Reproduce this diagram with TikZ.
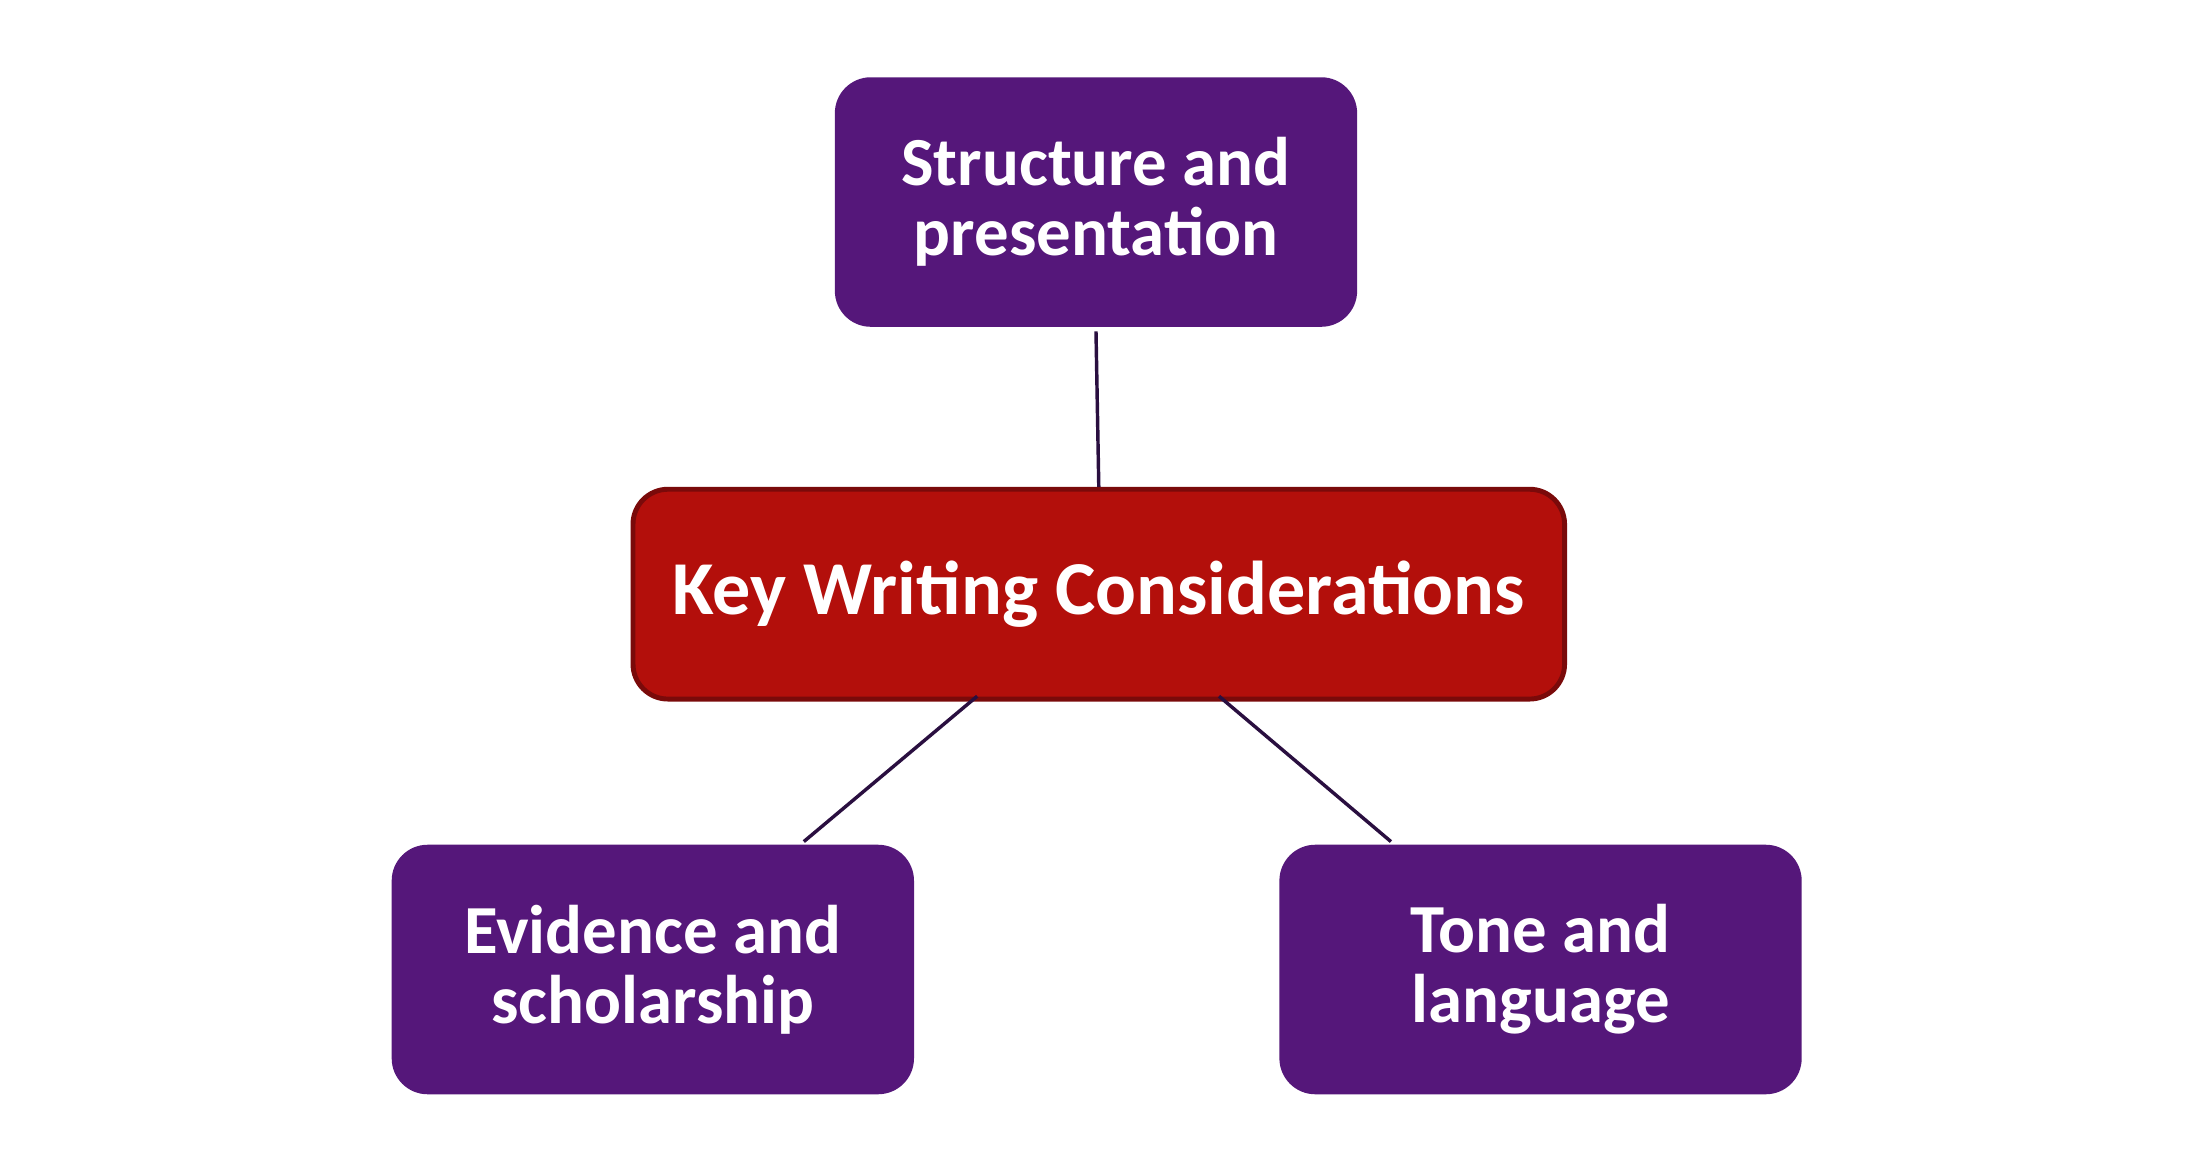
\documentclass[tikz,border=0pt]{standalone}
\usepackage{fontspec}
\setmainfont{Carlito}
\definecolor{purp}{HTML}{55177A}
\definecolor{keyred}{HTML}{B30F0B}
\definecolor{keyedge}{HTML}{7A0A0A}
\definecolor{linec}{HTML}{2A0F40}
\begin{document}
\begin{tikzpicture}[x=0.01cm,y=-0.01cm,
  box/.style={draw=purp,fill=purp,rounded corners=0.25cm,minimum width=3.72cm,minimum height=1.77cm,
    text=white,align=center,font=\fontsize{14}{14.2}\selectfont\bfseries,inner sep=0pt},
  key/.style={draw=keyedge,line width=1pt,fill=keyred,rounded corners=0.25cm,minimum width=6.66cm,minimum height=1.5cm,
    text=white,font=\fontsize{15.5}{16}\selectfont\bfseries,inner sep=0pt},
  conn/.style={draw=linec,line width=0.7pt}]
\useasboundingbox (0,0) rectangle (1568,838);
\node[box] (top) at (784,144.5) {Structure and\\presentation};
\node[key] (key) at (786,425) {Key Writing Considerations};
\node[box] (left) at (467,693.5) {Evidence and\\scholarship};
\node[box] (right) at (1102,693.5) {Tone and\\language};
\coordinate (t1) at (784,237);
\coordinate (l1) at (699,498);
\coordinate (l2) at (575,602);
\coordinate (r1) at (872,498);
\coordinate (r2) at (995,602);
\draw[conn] (t1) -- (key.north -| 786,0);
\draw[conn] (l1) -- (l2);
\draw[conn] (r1) -- (r2);
\end{tikzpicture}
\end{document}
